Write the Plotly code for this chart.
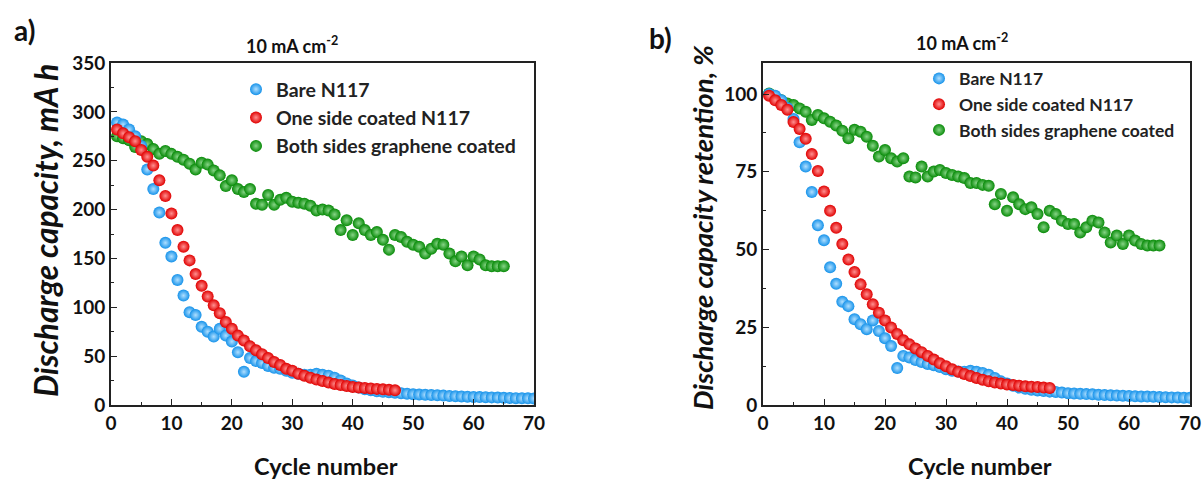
import plotly.graph_objects as go

# ---------------- data ----------------
cycles_bare = list(range(1, 71))
cycles_one = list(range(1, 48))
cycles_both = list(range(1, 66))

cap_bare = [289, 287, 282, 275, 265, 241, 221, 197, 166, 152, 128, 112, 95, 92, 80, 75, 70, 78, 71, 65,
            54, 34, 48, 45, 43, 40, 38, 37, 35, 33, 32, 31, 31, 32, 31, 30, 28, 25, 22, 20,
            18, 16, 15, 14, 13.5, 13, 12.5, 12, 11.5, 11, 10.8, 10.5, 10.2, 10, 9.6, 9.3, 9, 8.8, 8.5, 8.3,
            8.1, 8, 7.8, 7.6, 7.4, 7.2, 7, 6.9, 6.8, 6.7]
cap_one = [282, 278, 274, 270, 261, 254, 245, 230, 214, 196, 179, 162, 148, 134, 122, 111, 102, 94, 85, 78,
           71, 66, 60, 56, 52, 48, 44, 41, 37, 35, 32, 30, 28, 26, 24.5, 23, 21.5, 20.5, 19.5, 18.5,
           18, 17.5, 17, 16.5, 16, 15.5, 15]
cap_both = [275, 273, 271, 264, 270, 267, 262, 257, 260, 257, 254, 251, 247, 241, 248, 246, 240, 235, 224, 230,
            221, 218, 221, 206, 205, 215, 205, 210, 212, 208, 207, 206, 204, 199, 200, 199, 195, 179, 189, 174,
            186, 179, 174, 177, 169, 159, 174, 172, 167, 164, 162, 155, 160, 165, 164, 155, 147, 152, 143, 152,
            149, 143, 142, 142, 142]

ret_bare = [100, 99.5, 98, 95.5, 92, 84.5, 76.7, 68.5, 57.8, 53, 44.3, 39, 33.2, 31.8, 27.6, 26, 24.4, 27.2, 23.8, 21.5,
            19, 11.9, 15.8, 15.3, 14.5, 13.8, 13.2, 12.8, 12.2, 11.5, 11, 10.8, 10.7, 11, 10.7, 10.3, 9.7, 8.7, 7.6, 6.9,
            6.2, 5.6, 5.2, 4.9, 4.7, 4.5, 4.3, 4.2, 4.0, 3.8, 3.7, 3.6, 3.5, 3.45, 3.3, 3.2, 3.1, 3.05, 2.95, 2.9,
            2.8, 2.75, 2.7, 2.65, 2.55, 2.5, 2.45, 2.4, 2.35, 2.3]
ret_one = [99.5, 98, 96.5, 95, 91, 88.8, 85.6, 80.7, 75.3, 68.7, 62.5, 57, 51.8, 46.8, 42.8, 38.8, 35.6, 32.4, 29.7, 27.2,
           24.9, 22.8, 20.8, 19.5, 18.2, 17, 15.8, 14.6, 13.4, 12.5, 11.5, 10.7, 10, 9.3, 8.7, 8.1, 7.6, 7.2, 6.9, 6.6,
           6.4, 6.2, 6, 5.9, 5.8, 5.6, 5.5]
ret_both = [100.2, 99, 98, 97, 96.5, 95.4, 94.3, 91.7, 93.3, 92.2, 91.1, 89.9, 88.2, 85.8, 88.5, 87.9, 86.3, 83.4, 79.9, 82,
            79.4, 78.3, 79.4, 73.5, 73.2, 76.7, 73.5, 75.1, 75.6, 74.6, 74, 73.5, 73, 71.4, 71.4, 70.8, 70.5, 64.6, 67.9, 62.5,
            66.8, 64.6, 63, 63.6, 61.4, 57.2, 62.5, 61.4, 59.3, 58.2, 58.2, 55.5, 57.2, 59.3, 58.7, 55.5, 52.3, 54.5, 51.8, 54.5,
            52.9, 51.8, 51.3, 51.3, 51.3]

series_names = ["Bare N117", "One side coated N117", "Both sides graphene coated"]

x_ticks = [0, 10, 20, 30, 40, 50, 60, 70]
y1_ticks = [0, 50, 100, 150, 200, 250, 300, 350]
y2_ticks = [0, 25, 50, 75, 100]

# ---------------- style ----------------
FONT = "Lato"
W, H = 1204, 479
COL = {
    "blue": ("#1592EA", "#B0DFFF"),
    "red": ("#E00000", "#FF9090"),
    "green": ("#078A07", "#86D486"),
}

fig = go.Figure()


def add(x, y, name, col, xa, ya, legend, rank):
    edge, center = COL[col]
    fig.add_trace(go.Scatter(
        x=x, y=y, name=name, mode="markers", xaxis=xa, yaxis=ya,
        legend=legend, legendgroup=legend + name, legendrank=rank,
        marker=dict(size=12, color=edge, line=dict(width=0),
                    gradient=dict(type="radial", color=center)),
        hoverinfo="skip",
    ))


# draw order: green, blue, red (red on top)
add(cycles_both, cap_both, series_names[2], "green", "x", "y", "legend", 3)
add(cycles_bare, cap_bare, series_names[0], "blue", "x", "y", "legend", 1)
add(cycles_one, cap_one, series_names[1], "red", "x", "y", "legend", 2)

add(cycles_both, ret_both, series_names[2], "green", "x2", "y2", "legend2", 3)
add(cycles_bare, ret_bare, series_names[0], "blue", "x2", "y2", "legend2", 1)
add(cycles_one, ret_one, series_names[1], "red", "x2", "y2", "legend2", 2)

ax_common = dict(
    showline=True, linecolor="#222222", linewidth=1.6, mirror=True,
    ticks="inside", ticklen=6, tickwidth=1.4, tickcolor="#222222",
    showgrid=False, zeroline=False, automargin=False,
    tickfont=dict(family=FONT, size=19, color="#111111", weight="bold"),
)
minor_common = dict(ticks="inside", ticklen=3, tickwidth=1.2, tickcolor="#222222")

def px_x(p):
    return p / W

def px_y(p):
    return 1 - p / H

fig.update_layout(
    width=W, height=H,
    margin=dict(l=0, r=0, t=0, b=0),
    paper_bgcolor="white", plot_bgcolor="white",
    font=dict(family=FONT, color="#111111"),
    xaxis=dict(domain=[px_x(111), px_x(534)], range=[0, 70], tickvals=x_ticks,
               minor=dict(dtick=5, **minor_common), **ax_common),
    yaxis=dict(domain=[px_y(405), px_y(63)], range=[0, 350], tickvals=y1_ticks,
               minor=dict(dtick=25, **minor_common), **ax_common),
    xaxis2=dict(domain=[px_x(763), px_x(1190)], range=[0, 70], tickvals=x_ticks, anchor="y2",
                minor=dict(dtick=5, **minor_common), **ax_common),
    yaxis2=dict(domain=[px_y(405), px_y(63)], range=[0, 110], tickvals=y2_ticks, anchor="x2",
                minor=dict(dtick=12.5, **minor_common), **ax_common),
    legend=dict(x=px_x(236), y=px_y(70), xanchor="left", yanchor="top",
                bgcolor="rgba(0,0,0,0)",
                font=dict(family=FONT, size=19.5, color="#222222", weight="bold"),
                tracegroupgap=0, traceorder="grouped"),
    legend2=dict(x=px_x(919), y=px_y(60.5), xanchor="left", yanchor="top",
                 bgcolor="rgba(0,0,0,0)",
                 font=dict(family=FONT, size=17.5, color="#222222", weight="bold"),
                 tracegroupgap=0, traceorder="grouped"),
    showlegend=True,
)

ann = []
def text(x, y, s, size, bold=True, italic=False, angle=0):
    ann.append(dict(x=px_x(x), y=px_y(y), xref="paper", yref="paper", text=s, showarrow=False,
                    xanchor="center", yanchor="middle", textangle=angle,
                    font=dict(family=FONT, size=size, color="#111111",
                              weight="bold" if bold else "normal",
                              style="italic" if italic else "normal")))

text(24, 30, "a)", 28)
text(660, 38, "b)", 28)
text(292, 45, "10 mA cm<sup>-2</sup>", 18)
text(962, 42, "10 mA cm<sup>-2</sup>", 18)
text(326, 466, "Cycle number", 23.5)
text(980, 466, "Cycle number", 23.5)
text(46, 231, "Discharge capacity, mA h", 31.5, italic=True, angle=-90)
text(703, 228, "Discharge capacity retention, %", 27.5, italic=True, angle=-90)
fig.update_layout(annotations=ann)

fig.write_html("out.html")
